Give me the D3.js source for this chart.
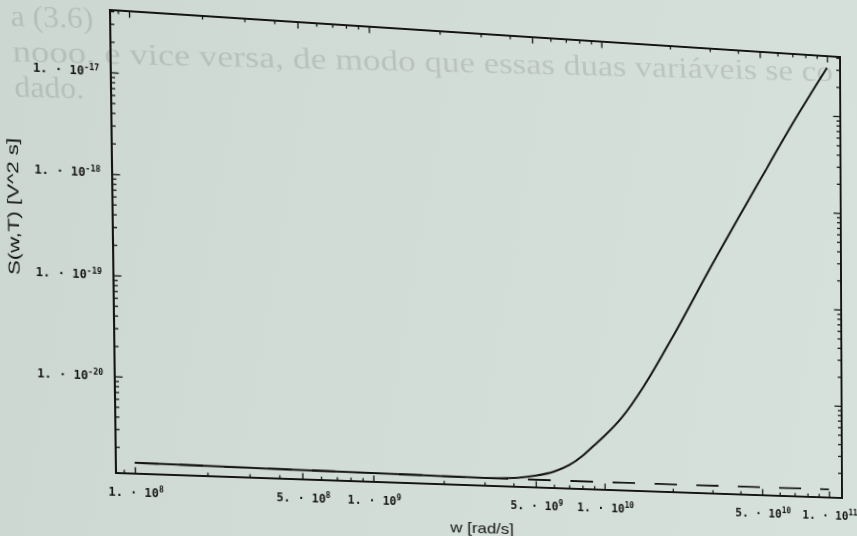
<!DOCTYPE html>
<html>
<head>
<meta charset="utf-8">
<script src="https://cdn.jsdelivr.net/npm/d3@7"></script>
<style>
  html, body { margin: 0; padding: 0; width: 857px; height: 536px; overflow: hidden;
    background: linear-gradient(100deg, #ccd7d1 0%, #d3ddd8 50%, #d7e1dc 100%); }
  #chart svg { position: absolute; left: 0; top: 0; transform-origin: 0 0; overflow: visible; }
  .tickLabel { font-family: "DejaVu Sans Mono", monospace; font-weight: bold; font-size: 11.5px; fill: #141414; }
  .axisTitle { font-family: "Liberation Sans", Arial, sans-serif; font-size: 15px; fill: #141414; }
  .pageText { font-family: "Liberation Serif", serif; font-size: 30px; fill: #5f6a65; fill-opacity: 0.22; }
  .tick line { stroke: #141414; stroke-width: 1.3; }
</style>
</head>
<body>
<div id="chart"></div>
<script>
// w [rad/s] and S(w,T) [V^2 s]
var freq = [1e8, 3e8, 1e9, 2e9, 3e9, 4e9, 5e9, 6e9, 7e9, 8e9, 9e9, 1e10, 1.2e10, 1.5e10, 2e10, 3e10, 5e10, 7e10, 1e11];
var sTotal = [1.41e-21, 1.38e-21, 1.35e-21, 1.33e-21, 1.32e-21, 1.35e-21, 1.45e-21, 1.62e-21, 1.91e-21, 2.4e-21,
              3.1e-21, 3.9e-21, 6.2e-21, 1.32e-20, 4.2e-20, 2.4e-19, 2.0e-18, 7.9e-18, 3.1e-17];

// dashed curve (flat floor)
var freqThermal = [1e8, 3e8, 1e9, 2e9, 3e9, 1e10, 1e11];
var sThermal = [1.41e-21, 1.38e-21, 1.35e-21, 1.33e-21, 1.32e-21, 1.32e-21, 1.34e-21];

// labelled ticks
var xLabelTicks = [1e8, 5e8, 1e9, 5e9, 1e10, 5e10, 1e11];
var yLabelTicks = [1e-17, 1e-18, 1e-19, 1e-20];

var xDomain = [8.36e7, 1.146e11];
var yDomain = [1.10e-21, 4.09e-17];

// faint text showing through from the page
var pageLines = ["a (3.6)", "nooo, e vice versa, de modo que essas duas variáveis se co", "dado."];

// set the dimensions and margins of the graph
var margin = {top: 10, right: 16, bottom: 63, left: 112},
  width = 857 - margin.left - margin.right,
  height = 536 - margin.top - margin.bottom;

// the page was photographed at an angle: map the flat frame onto the photo corners
function homography(rect, q) {
  var dx1 = q[1][0] - q[2][0], dx2 = q[3][0] - q[2][0], dx3 = q[0][0] - q[1][0] + q[2][0] - q[3][0];
  var dy1 = q[1][1] - q[2][1], dy2 = q[3][1] - q[2][1], dy3 = q[0][1] - q[1][1] + q[2][1] - q[3][1];
  var den = dx1 * dy2 - dx2 * dy1;
  var g = (dx3 * dy2 - dx2 * dy3) / den,
      h = (dx1 * dy3 - dx3 * dy1) / den;
  var a = q[1][0] - q[0][0] + g * q[1][0], b = q[3][0] - q[0][0] + h * q[3][0], c = q[0][0];
  var d = q[1][1] - q[0][1] + g * q[1][1], e = q[3][1] - q[0][1] + h * q[3][1], f = q[0][1];
  var x0 = rect[0], y0 = rect[1], W = rect[2] - rect[0], H = rect[3] - rect[1];
  var m = [
    a / W, d / W, 0, g / W,
    b / H, e / H, 0, h / H,
    0, 0, 1, 0,
    c - a * x0 / W - b * y0 / H, f - d * x0 / W - e * y0 / H, 0, 1 - g * x0 / W - h * y0 / H
  ];
  return "matrix3d(" + m.join(",") + ")";
}

var root = d3.select("#chart").append("svg")
  .attr("width", 857)
  .attr("height", 536)
  .style("transform", homography(
      [margin.left, margin.top, margin.left + width, margin.top + height],
      [[110, 10], [840, 57], [842, 498], [116, 473]]));

// page text behind the figure (it lies a little flatter than the frame)
root.append("g")
  .attr("transform", "rotate(-2.2, 18, 30)")
  .selectAll(".pageText")
  .data(pageLines)
  .enter().append("text")
  .attr("class", "pageText")
  .attr("x", 18)
  .attr("y", function(d, i) { return 32 + i * 35; })
  .attr("textLength", function(d, i) { return i == 1 ? 815 : null; })
  .attr("lengthAdjust", "spacingAndGlyphs")
  .text(function(d) { return d; });

var svg = root.append("g")
  .attr("transform", "translate(" + margin.left + "," + margin.top + ")");

// set the ranges
var x = d3.scaleLog().domain(xDomain).range([0, width]);
var y = d3.scaleLog().domain(yDomain).range([height, 0]);

function isLabelled(list, v) {
  return list.some(function(t) { return Math.abs(t - v) / t < 1e-6; });
}
var xMinor = x.ticks().filter(function(v) { return !isLabelled(xLabelTicks, v); });
var yMinor = y.ticks().filter(function(v) { return !isLabelled(yLabelTicks, v); });

function addAxis(axisFn, scale, vals, size, tr) {
  var g = svg.append("g")
    .attr("transform", tr)
    .call(axisFn(scale).tickValues(vals).tickSize(-size).tickFormat(""));
  g.select(".domain").remove();
  return g;
}

// inward ticks on all four sides
addAxis(d3.axisBottom, x, xMinor, 3.5, "translate(0," + height + ")");
addAxis(d3.axisBottom, x, xLabelTicks, 6.5, "translate(0," + height + ")");
addAxis(d3.axisTop, x, xMinor, 3.5, "translate(0,0)");
addAxis(d3.axisTop, x, xLabelTicks, 6.5, "translate(0,0)");
addAxis(d3.axisLeft, y, yMinor, 4, "translate(0,0)");
addAxis(d3.axisLeft, y, yLabelTicks, 7.5, "translate(0,0)");
addAxis(d3.axisRight, y, yMinor, 4, "translate(" + width + ",0)");
addAxis(d3.axisRight, y, yLabelTicks, 7.5, "translate(" + width + ",0)");

// Mathematica style "1. · 10^n" labels
function sciLabel(sel) {
  sel.each(function(v) {
    var ex = Math.floor(Math.log10(v) + 1e-9);
    var mant = Math.round(v / Math.pow(10, ex));
    var t = d3.select(this);
    t.append("tspan").text(mant + ". · 10");
    t.append("tspan").attr("dy", -5).attr("font-size", "8px").text(ex);
  });
}

svg.selectAll(".xLabel")
  .data(xLabelTicks)
  .enter().append("text")
  .attr("class", "tickLabel xLabel")
  .attr("text-anchor", "middle")
  .attr("x", function(d) { return x(d) + 1; })
  .attr("y", height + 23)
  .call(sciLabel);

svg.selectAll(".yLabel")
  .data(yLabelTicks)
  .enter().append("text")
  .attr("class", "tickLabel yLabel")
  .attr("text-anchor", "end")
  .attr("x", -11)
  .attr("y", function(d) { return y(d) + 4; })
  .call(sciLabel);

// curves
var line = d3.line()
  .x(function(d) { return x(d[0]); })
  .y(function(d) { return y(d[1]); })
  .curve(d3.curveMonotoneX);

svg.append("path")
  .datum(d3.zip(freqThermal, sThermal))
  .attr("fill", "none")
  .attr("stroke", "#141414")
  .attr("stroke-width", 1.8)
  .attr("stroke-dasharray", "23,20")
  .attr("d", line);

svg.append("path")
  .datum(d3.zip(freq, sTotal))
  .attr("fill", "none")
  .attr("stroke", "#141414")
  .attr("stroke-width", 2)
  .attr("d", line);

// frame
svg.append("rect")
  .attr("width", width)
  .attr("height", height)
  .attr("fill", "none")
  .attr("stroke", "#141414")
  .attr("stroke-width", 2);

// axis titles
root.append("text")
  .attr("class", "axisTitle")
  .attr("text-anchor", "middle")
  .attr("x", margin.left + width / 2 - 6)
  .attr("y", margin.top + height + 49)
  .attr("textLength", 64)
  .attr("lengthAdjust", "spacingAndGlyphs")
  .text("w [rad/s]");

root.append("text")
  .attr("class", "axisTitle")
  .attr("text-anchor", "middle")
  .attr("transform", "translate(23," + (margin.top + 201) + ") rotate(-90)")
  .attr("textLength", 136)
  .attr("lengthAdjust", "spacingAndGlyphs")
  .text("S(w,T) [V^2 s]");
</script>
</body>
</html>
